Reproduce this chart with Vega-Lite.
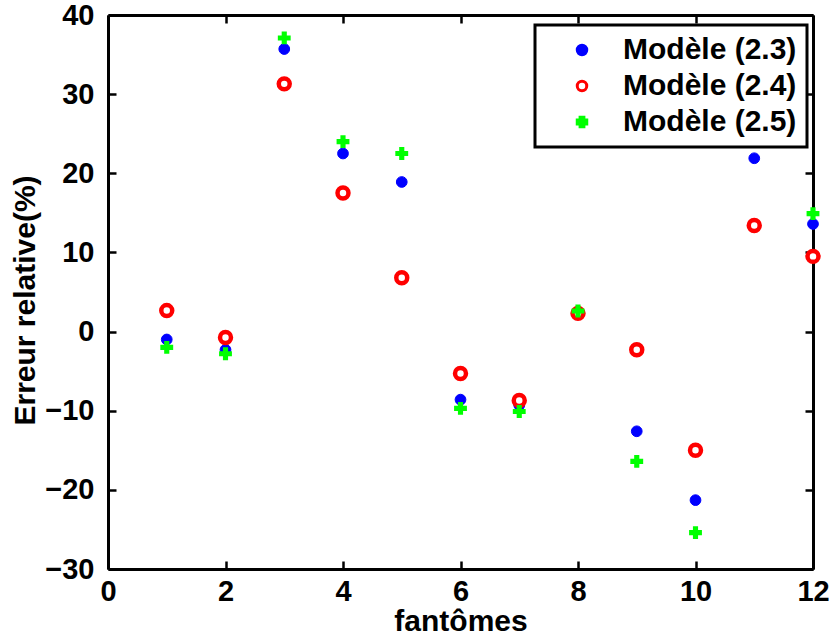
{
  "$schema": "https://vega.github.io/schema/vega-lite/v6.json",
  "width": 705,
  "height": 554,
  "autosize": {"type": "none"},
  "padding": {"left": 108, "top": 15, "right": 16, "bottom": 74},
  "data": {
    "values": [
      {"x": 1, "v": -1.0, "s": "Modèle (2.3)"},
      {"x": 2, "v": -2.3, "s": "Modèle (2.3)"},
      {"x": 3, "v": 35.7, "s": "Modèle (2.3)"},
      {"x": 4, "v": 22.5, "s": "Modèle (2.3)"},
      {"x": 5, "v": 18.9, "s": "Modèle (2.3)"},
      {"x": 6, "v": -8.6, "s": "Modèle (2.3)"},
      {"x": 7, "v": -9.3, "s": "Modèle (2.3)"},
      {"x": 8, "v": 2.4, "s": "Modèle (2.3)"},
      {"x": 9, "v": -12.6, "s": "Modèle (2.3)"},
      {"x": 10, "v": -21.3, "s": "Modèle (2.3)"},
      {"x": 11, "v": 21.9, "s": "Modèle (2.3)"},
      {"x": 12, "v": 13.6, "s": "Modèle (2.3)"},
      {"x": 1, "v": 2.65, "s": "Modèle (2.4)"},
      {"x": 2, "v": -0.75, "s": "Modèle (2.4)"},
      {"x": 3, "v": 31.3, "s": "Modèle (2.4)"},
      {"x": 4, "v": 17.5, "s": "Modèle (2.4)"},
      {"x": 5, "v": 6.8, "s": "Modèle (2.4)"},
      {"x": 6, "v": -5.3, "s": "Modèle (2.4)"},
      {"x": 7, "v": -8.7, "s": "Modèle (2.4)"},
      {"x": 8, "v": 2.3, "s": "Modèle (2.4)"},
      {"x": 9, "v": -2.3, "s": "Modèle (2.4)"},
      {"x": 10, "v": -15.0, "s": "Modèle (2.4)"},
      {"x": 11, "v": 13.4, "s": "Modèle (2.4)"},
      {"x": 12, "v": 9.5, "s": "Modèle (2.4)"},
      {"x": 1, "v": -2.0, "s": "Modèle (2.5)"},
      {"x": 2, "v": -2.8, "s": "Modèle (2.5)"},
      {"x": 3, "v": 37.1, "s": "Modèle (2.5)"},
      {"x": 4, "v": 24.0, "s": "Modèle (2.5)"},
      {"x": 5, "v": 22.5, "s": "Modèle (2.5)"},
      {"x": 6, "v": -9.7, "s": "Modèle (2.5)"},
      {"x": 7, "v": -10.1, "s": "Modèle (2.5)"},
      {"x": 8, "v": 2.6, "s": "Modèle (2.5)"},
      {"x": 9, "v": -16.4, "s": "Modèle (2.5)"},
      {"x": 10, "v": -25.4, "s": "Modèle (2.5)"},
      {"x": 12, "v": 14.9, "s": "Modèle (2.5)"}
    ]
  },
  "layer": [
    {
      "mark": {"type": "point", "opacity": 0},
      "encoding": {
        "x": {"field": "x", "type": "quantitative", "scale": {"domain": [0, 12], "nice": false}, "axis": {"orient": "top", "labels": false, "title": null, "values": [0, 2, 4, 6, 8, 10, 12]}},
        "y": {"field": "v", "type": "quantitative", "scale": {"domain": [-30, 40], "nice": false}, "axis": {"orient": "right", "labels": false, "title": null, "values": [-30, -20, -10, 0, 10, 20, 30, 40]}}
      }
    },
    {
      "mark": {"type": "point", "opacity": 1, "clip": false},
      "encoding": {
        "x": {"field": "x", "type": "quantitative", "scale": {"domain": [0, 12], "nice": false}, "axis": {"orient": "bottom", "title": "fantômes", "values": [0, 2, 4, 6, 8, 10, 12], "labelPadding": 16, "labelFlush": false, "titlePadding": 0, "titleFontSize": 30}},
        "y": {"field": "v", "type": "quantitative", "scale": {"domain": [-30, 40], "nice": false}, "axis": {"orient": "left", "title": "Erreur relative(%)", "values": [-30, -20, -10, 0, 10, 20, 30, 40], "labelPadding": 22, "labelFlush": false, "titlePadding": 4, "titleFontSize": 30, "titleY": 285}},
        "shape": {"field": "s", "type": "nominal", "scale": {"range": ["circle", "circle", "cross"]}, "legend": {"title": null}},
        "fill": {"field": "s", "type": "nominal", "scale": {"range": ["#0000ff", "white", "#00ff00"]}, "legend": {"title": null}},
        "stroke": {"field": "s", "type": "nominal", "scale": {"range": ["#0000ff", "#ff0000", "#00ff00"]}, "legend": {"title": null}},
        "size": {"condition": [{"test": "datum.s === 'Modèle (2.3)'", "value": 115}, {"test": "datum.s === 'Modèle (2.4)'", "value": 120}], "value": 165},
        "strokeWidth": {"condition": [{"test": "datum.s === 'Modèle (2.3)'", "value": 1}, {"test": "datum.s === 'Modèle (2.4)'", "value": 4.5}], "value": 0}
      }
    }
  ],
  "resolve": {"axis": {"x": "independent", "y": "independent"}},
  "config": {
    "view": {"stroke": null},
    "font": "Liberation Sans",
    "axis": {
      "grid": false,
      "domain": true,
      "domainColor": "black",
      "domainWidth": 3,
      "tickColor": "black",
      "tickWidth": 2.5,
      "tickSize": -8,
      "labelFont": "Liberation Sans",
      "labelFontSize": 29,
      "labelFontWeight": "bold",
      "labelColor": "black",
      "titleFont": "Liberation Sans",
      "titleFontSize": 30,
      "titleFontWeight": "bold",
      "titleColor": "black"
    },
    "legend": {
      "orient": "none",
      "legendX": 427,
      "legendY": 10,
      "strokeColor": "black",
      "strokeWidth": 3,
      "fillColor": "white",
      "padding": 10,
      "labelFont": "Liberation Sans",
      "labelFontSize": 30,
      "labelFontWeight": "bold",
      "labelColor": "black",
      "rowPadding": 6,
      "symbolOffset": 22,
      "labelOffset": 26,
      "labelLimit": 300,
      "symbolSize": 90,
      "symbolStrokeWidth": 3
    }
  }
}
